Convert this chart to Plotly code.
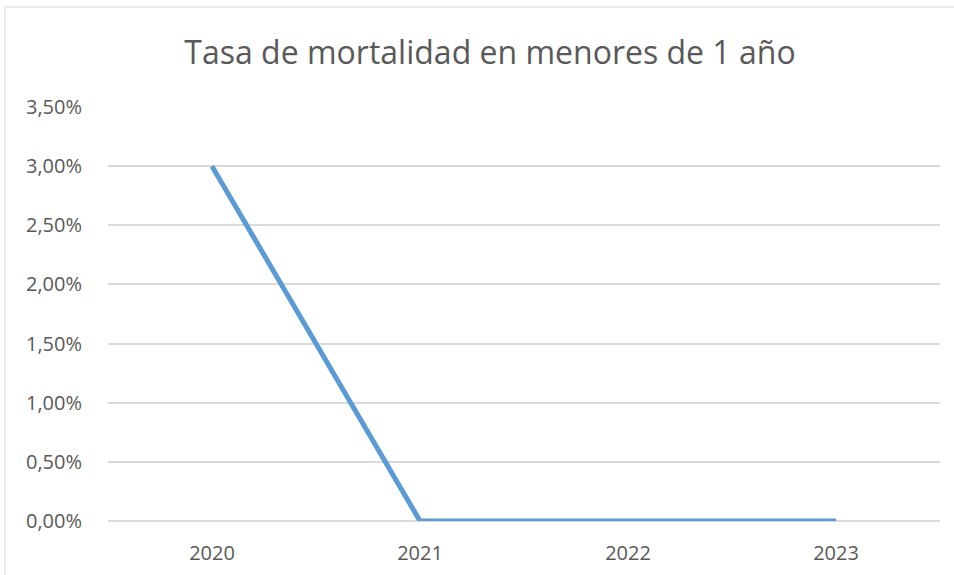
import plotly.graph_objects as go

# Infant mortality rate by year (fractions, shown as percentages)
years = ["2020", "2021", "2022", "2023"]
rates = [0.03, 0.0, 0.0, 0.0]
y_ticks = [0.0, 0.005, 0.01, 0.015, 0.02, 0.025, 0.03, 0.035]

W, H = 954, 575
L, R, T, B = 108, 14, 107, 54
pw, ph = W - L - R, H - T - B

def px_x(p):
    return (p - L) / pw

def px_y(p):
    return (H - B - p) / ph

FONT = "Open Sans"
GRID = "#D9D9D9"
TXT = "#595959"

fig = go.Figure(
    go.Scatter(
        x=years,
        y=rates,
        mode="lines",
        line=dict(color="#5B9BD5", width=5),
        hoverinfo="x+y",
    )
)

fig.update_layout(
    width=W,
    height=H,
    margin=dict(l=L, r=R, t=T, b=B),
    paper_bgcolor="white",
    plot_bgcolor="white",
    separators=",.",
    showlegend=False,
    title=dict(
        text="Tasa de mortalidad en menores de 1 año",
        x=490 / W,
        xref="container",
        xanchor="center",
        y=1 - 53 / H,
        yref="container",
        yanchor="middle",
        font=dict(family=FONT, size=32, color=TXT),
    ),
    xaxis=dict(
        type="category",
        range=[-0.5, 3.5],
        automargin=False,
        showgrid=False,
        showline=False,
        zeroline=False,
        ticks="outside",
        ticklen=14,
        tickcolor="rgba(0,0,0,0)",
        tickfont=dict(family=FONT, size=20, color=TXT),
    ),
    yaxis=dict(
        range=[0, 0.035],
        automargin=False,
        tickvals=y_ticks,
        tickformat=".2%",
        showgrid=True,
        gridcolor=GRID,
        gridwidth=1.5,
        zeroline=True,
        zerolinecolor=GRID,
        zerolinewidth=1.5,
        showline=False,
        ticks="outside",
        ticklen=21,
        tickcolor="rgba(0,0,0,0)",
        tickfont=dict(family=FONT, size=20, color=TXT),
    ),
    shapes=[
        dict(
            type="rect",
            xref="paper",
            yref="paper",
            x0=px_x(5),
            x1=px_x(990),
            y0=px_y(600),
            y1=px_y(7),
            line=dict(color="#D9D9D9", width=1),
            fillcolor="rgba(0,0,0,0)",
            layer="below",
        )
    ],
)

fig.write_html("out.html")
